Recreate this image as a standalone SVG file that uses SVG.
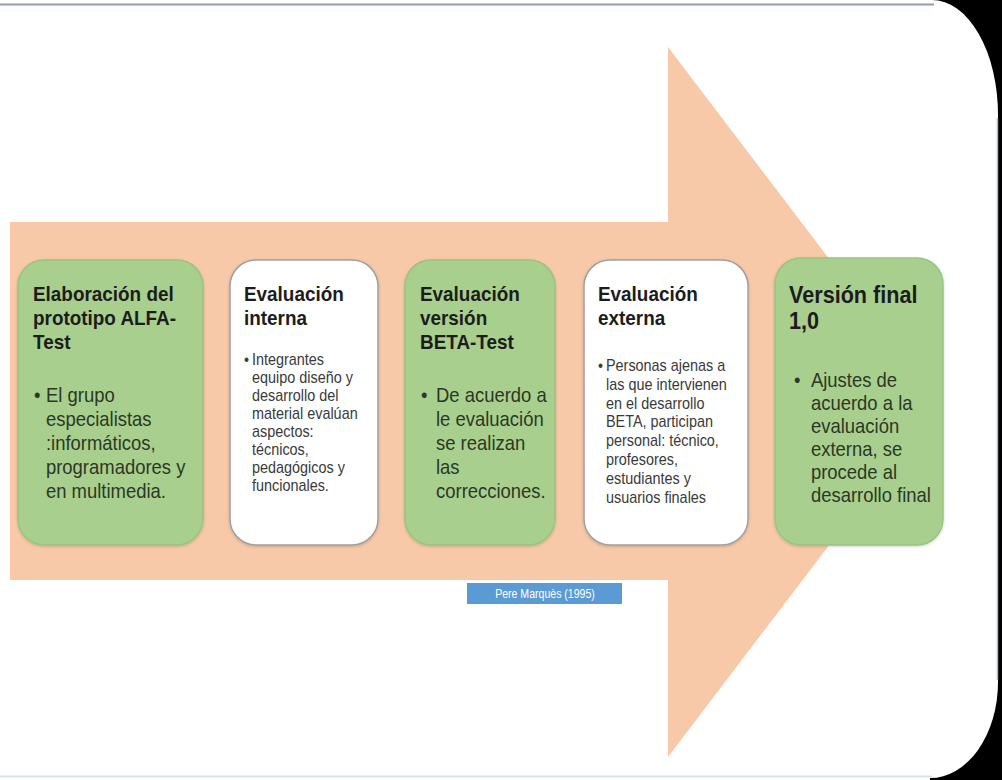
<svg xmlns="http://www.w3.org/2000/svg" width="1002" height="780" viewBox="0 0 1002 780">
  <style>
    .t { font-family: "Liberation Sans", Arial, sans-serif; font-weight: bold; font-size: 21px; fill: #1c1c1c; }
    .tb { font-size: 24px; }
    .b { font-family: "Liberation Sans", Arial, sans-serif; font-size: 20.5px; fill: #2c3826; }
    .s { font-family: "Liberation Sans", Arial, sans-serif; font-size: 16px; fill: #3a3a3a; }
    .green { fill: #a8cf8d; stroke: #9ac47f; stroke-width: 1.5; }
    .white { fill: #ffffff; stroke: #a0a0a0; stroke-width: 1.5; }
    .src { font-family: "Liberation Sans", Arial, sans-serif; font-size: 12px; fill: #ffffff; }
  </style>
  <defs>
    <filter id="soft" x="-10%" y="-10%" width="120%" height="120%">
      <feDropShadow dx="0" dy="1" stdDeviation="1.5" flood-color="#000" flood-opacity="0.18"/>
    </filter>
  </defs>

  <!-- page frame -->
  <rect x="0" y="0" width="1002" height="780" fill="#ffffff"/>
  <rect x="930" y="0" width="72" height="780" fill="#000000"/>
  <path d="M0,0 H932 A66,115 0 0 1 998,115 V682 A68,96 0 0 1 930,778 H0 Z" fill="#ffffff"/>
  <line x1="0" y1="4.5" x2="934" y2="4.5" stroke="#8d9db3" stroke-width="2"/>
  <line x1="0" y1="776.5" x2="932" y2="776.5" stroke="#d3e6f0" stroke-width="2"/>
  <line x1="997.5" y1="118" x2="997.5" y2="680" stroke="#a9b8cc" stroke-width="1.5"/>

  <!-- process arrow -->
  <g id="arrow">
    <polygon points="10,222 668,222 668,47 938,402 668,757 668,580 10,580" fill="#f7c9a8"/>
  </g>

  <!-- step 1 -->
  <g id="node-alfa">
    <rect class="green" x="18" y="260" width="185" height="285" rx="26" filter="url(#soft)"/>
    <g transform="translate(33,0) scale(0.9,1)">
      <text class="t" x="0" y="301">Elaboración del</text>
      <text class="t" x="0" y="325">prototipo ALFA-</text>
      <text class="t" x="0" y="349">Test</text>
      <text class="b" x="1" y="402">•</text>
      <text class="b" x="14.4" y="402">El grupo</text>
      <text class="b" x="14.4" y="426">especialistas</text>
      <text class="b" x="14.4" y="450">:informáticos,</text>
      <text class="b" x="14.4" y="474">programadores y</text>
      <text class="b" x="14.4" y="498">en multimedia.</text>
    </g>
  </g>

  <!-- step 2 -->
  <g id="node-interna">
    <rect class="white" x="230" y="260" width="148" height="285" rx="26" filter="url(#soft)"/>
    <g transform="translate(244,0) scale(0.9,1)">
      <text class="t" x="0" y="301">Evaluación</text>
      <text class="t" x="0" y="325">interna</text>
      <text class="s" x="0" y="365">•</text>
      <text class="s" x="8.9" y="365">Integrantes</text>
      <text class="s" x="8.9" y="383">equipo diseño y</text>
      <text class="s" x="8.9" y="401">desarrollo del</text>
      <text class="s" x="8.9" y="419">material evalúan</text>
      <text class="s" x="8.9" y="437">aspectos:</text>
      <text class="s" x="8.9" y="455">técnicos,</text>
      <text class="s" x="8.9" y="473">pedagógicos y</text>
      <text class="s" x="8.9" y="491">funcionales.</text>
    </g>
  </g>

  <!-- step 3 -->
  <g id="node-beta">
    <rect class="green" x="405" y="260" width="150" height="285" rx="26" filter="url(#soft)"/>
    <g transform="translate(420,0) scale(0.9,1)">
      <text class="t" x="0" y="301">Evaluación</text>
      <text class="t" x="0" y="325">versión</text>
      <text class="t" x="0" y="349">BETA-Test</text>
      <text class="b" x="1" y="402">•</text>
      <text class="b" x="17.8" y="402">De acuerdo a</text>
      <text class="b" x="17.8" y="426">le evaluación</text>
      <text class="b" x="17.8" y="450">se realizan</text>
      <text class="b" x="17.8" y="474">las</text>
      <text class="b" x="17.8" y="498">correcciones.</text>
    </g>
  </g>

  <!-- step 4 -->
  <g id="node-externa">
    <rect class="white" x="584" y="260" width="164" height="285" rx="26" filter="url(#soft)"/>
    <g transform="translate(598,0) scale(0.9,1)">
      <text class="t" x="0" y="301">Evaluación</text>
      <text class="t" x="0" y="325">externa</text>
      <text class="s" x="0" y="371">•</text>
      <text class="s" x="8.9" y="371">Personas ajenas a</text>
      <text class="s" x="8.9" y="390">las que intervienen</text>
      <text class="s" x="8.9" y="409">en el desarrollo</text>
      <text class="s" x="8.9" y="427">BETA, participan</text>
      <text class="s" x="8.9" y="446">personal: técnico,</text>
      <text class="s" x="8.9" y="465">profesores,</text>
      <text class="s" x="8.9" y="484">estudiantes y</text>
      <text class="s" x="8.9" y="503">usuarios finales</text>
    </g>
  </g>

  <!-- step 5 -->
  <g id="node-final">
    <rect class="green" x="775" y="258" width="168" height="287" rx="26" filter="url(#soft)"/>
    <g transform="translate(789,0) scale(0.9,1)">
      <text class="t tb" x="0" y="303">Versión final</text>
      <text class="t tb" x="0" y="329">1,0</text>
      <text class="b" x="5.6" y="387">•</text>
      <text class="b" x="24.4" y="387">Ajustes de</text>
      <text class="b" x="24.4" y="410">acuerdo a la</text>
      <text class="b" x="24.4" y="433">evaluación</text>
      <text class="b" x="24.4" y="456">externa, se</text>
      <text class="b" x="24.4" y="479">procede al</text>
      <text class="b" x="24.4" y="502">desarrollo final</text>
    </g>
  </g>

  <!-- source tag -->
  <g id="source">
    <rect x="467" y="583" width="155" height="21" fill="#5b9bd5"/>
    <text class="src" text-anchor="middle" transform="translate(545,598) scale(0.88,1)">Pere Marquès (1995)</text>
  </g>
</svg>
